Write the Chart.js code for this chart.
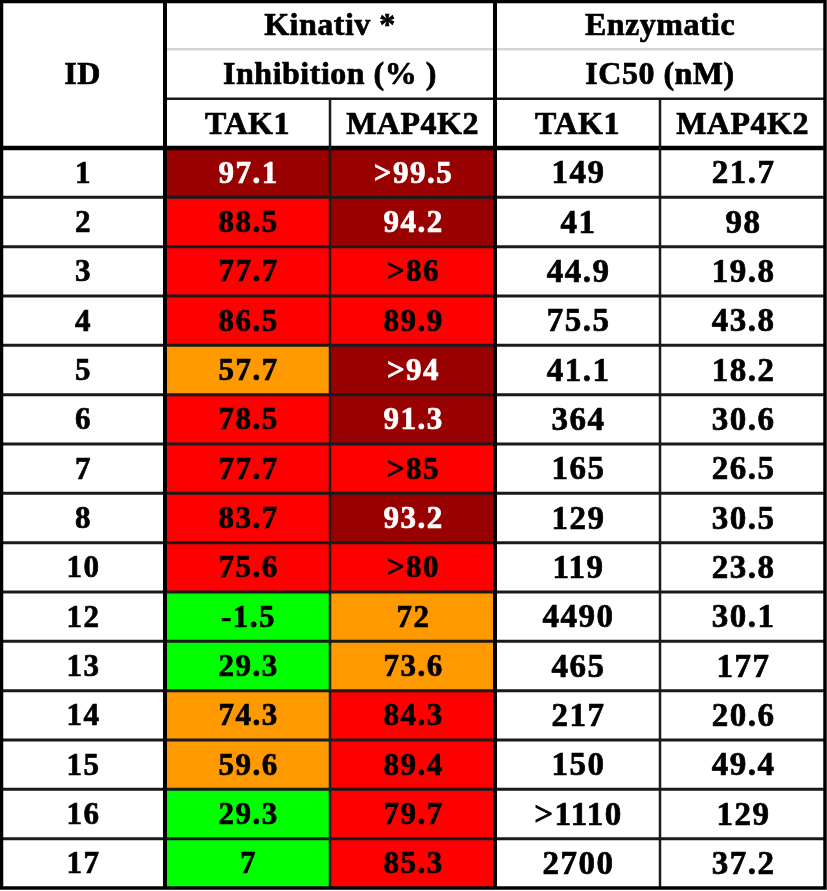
<!DOCTYPE html>
<html>
<head>
<meta charset="utf-8">
<script src="https://cdn.jsdelivr.net/npm/chart.js@4"></script>
<style>
  html, body { margin: 0; padding: 0; background: #fff; }
  canvas { display: block; }
</style>
</head>
<body>
<canvas id="tableChart" width="827" height="891"></canvas>
<script>
// Valores da tabela
const ids = ['1', '2', '3', '4', '5', '6', '7', '8', '10', '12', '13', '14', '15', '16', '17'];
const kinativTak1 = ['97.1', '88.5', '77.7', '86.5', '57.7', '78.5', '77.7', '83.7', '75.6', '-1.5', '29.3', '74.3', '59.6', '29.3', '7'];
const kinativMap4k2 = ['>99.5', '94.2', '>86', '89.9', '>94', '91.3', '>85', '93.2', '>80', '72', '73.6', '84.3', '89.4', '79.7', '85.3'];
const ic50Tak1 = ['149', '41', '44.9', '75.5', '41.1', '364', '165', '129', '119', '4490', '465', '217', '150', '>1110', '2700'];
const ic50Map4k2 = ['21.7', '98', '19.8', '43.8', '18.2', '30.6', '26.5', '30.5', '23.8', '30.1', '177', '20.6', '49.4', '129', '37.2'];

const headerRows = ['h0', 'h1', 'h2'];
const rowLabels = headerRows.concat(ids);

// Cor de acordo com a inibição (%)
function inhibitionColor(txt) {
    const v = parseFloat(txt.replace('>', ''));
    if (v >= 90) return '#990000';
    if (v >= 75) return '#ff0000';
    if (v >= 50) return '#ff9900';
    return '#00ff00';
}

function cellBars(col) {
    return ids.map(id => ({ y: id, x: [col, col + 1] }));
}

const data = {
    labels: rowLabels,
    datasets: [
        {
            label: 'Kinativ TAK1',
            data: cellBars(1),
            backgroundColor: kinativTak1.map(inhibitionColor)
        },
        {
            label: 'Kinativ MAP4K2',
            data: cellBars(2),
            backgroundColor: kinativMap4k2.map(inhibitionColor)
        }
    ]
};

// Plugin para desenhar linhas e textos da tabela
const tablePlugin = {
    id: 'tablePlugin',
    afterDatasetsDraw(chart) {
        const ctx = chart.ctx;
        const x = chart.scales.x;
        const y = chart.scales.y;
        const h = y.getPixelForValue(1) - y.getPixelForValue(0);
        const top = i => y.getPixelForValue(i) - h / 2;
        const mid = i => y.getPixelForValue(i);
        const xc = c => (x.getPixelForValue(c) + x.getPixelForValue(c + 1)) / 2;
        const nRows = rowLabels.length;

        function hline(row, c0, c1, w, color) {
            ctx.beginPath();
            ctx.lineWidth = w;
            ctx.strokeStyle = color;
            ctx.moveTo(x.getPixelForValue(c0), top(row));
            ctx.lineTo(x.getPixelForValue(c1), top(row));
            ctx.stroke();
        }
        function vline(col, r0, r1, w, color) {
            ctx.beginPath();
            ctx.lineWidth = w;
            ctx.strokeStyle = color;
            ctx.moveTo(x.getPixelForValue(col), top(r0));
            ctx.lineTo(x.getPixelForValue(col), top(r1));
            ctx.stroke();
        }
        // texto em negrito mais pesado
        function text(t, px, py, color) {
            ctx.fillStyle = color;
            ctx.strokeStyle = color;
            ctx.lineWidth = 0.7;
            ctx.fillText(t, px, py);
            ctx.strokeText(t, px, py);
        }

        ctx.save();
        // linhas entre as linhas de dados
        for (let r = 4; r < nRows; r++) hline(r, 0, 5, 3, '#1a1a1a');
        hline(1, 1, 5, 2.5, '#d4d4d4');
        hline(2, 1, 5, 2.5, '#1a1a1a');
        hline(3, 0, 5, 4.5, '#000');
        vline(2, 2, nRows, 2.5, '#1a1a1a');
        vline(4, 2, nRows, 2.5, '#1a1a1a');
        vline(1, 0, nRows, 4, '#000');
        vline(3, 0, nRows, 4, '#000');
        // borda externa
        ctx.lineWidth = 3.5;
        ctx.strokeStyle = '#000';
        ctx.strokeRect(x.getPixelForValue(0) + 1.5, top(0) + 1.5,
            x.getPixelForValue(5) - x.getPixelForValue(0) - 1.5, top(nRows) - top(0) - 1.5);

        // textos
        ctx.textAlign = 'center';
        ctx.textBaseline = 'middle';
        ctx.letterSpacing = '0.5px';
        ctx.font = 'bold 32px "Liberation Serif", "Times New Roman", serif';
        text('ID', xc(0), (mid(0) + mid(2)) / 2 + 2, '#000');
        text('Kinativ *', (xc(1) + xc(2)) / 2, mid(0) + 2, '#000');
        text('Inhibition (% )', (xc(1) + xc(2)) / 2, mid(1) + 2, '#000');
        text('Enzymatic', (xc(3) + xc(4)) / 2, mid(0) + 2, '#000');
        text('IC50 (nM)', (xc(3) + xc(4)) / 2, mid(1) + 2, '#000');
        ['TAK1', 'MAP4K2', 'TAK1', 'MAP4K2'].forEach((t, i) => text(t, xc(i + 1), mid(2) + 2, '#000'));

        const columns = [ids, kinativTak1, kinativMap4k2, ic50Tak1, ic50Map4k2];
        columns.forEach((col, c) => {
            if (c >= 3) {
                ctx.font = 'bold 33px "Liberation Serif", "Times New Roman", serif';
                ctx.letterSpacing = '1.5px';
            } else {
                ctx.font = 'bold 31px "Liberation Serif", "Times New Roman", serif';
                ctx.letterSpacing = '1.5px';
            }
            col.forEach((t, i) => {
                let color = '#000';
                if ((c === 1 || c === 2) && inhibitionColor(t) === '#990000') color = '#ffffff';
                text(t, xc(c) + 1, mid(i + 3) + 2, color);
            });
        });
        ctx.restore();
    }
};

const config = {
    type: 'bar',
    data: data,
    options: {
        indexAxis: 'y',
        responsive: false,
        animation: false,
        layout: { padding: { left: 0, top: 0, right: 2, bottom: 3 } },
        datasets: {
            bar: {
                grouped: false,
                barPercentage: 1,
                categoryPercentage: 1,
                borderWidth: 0
            }
        },
        scales: {
            x: { type: 'linear', min: 0, max: 5, display: false },
            y: { type: 'category', display: false, offset: true, grid: { display: false } }
        },
        plugins: {
            legend: { display: false },
            tooltip: { enabled: false }
        }
    },
    plugins: [tablePlugin]
};

const ctx = document.getElementById('tableChart').getContext('2d');
window.myChart = new Chart(ctx, config);
</script>
</body>
</html>
